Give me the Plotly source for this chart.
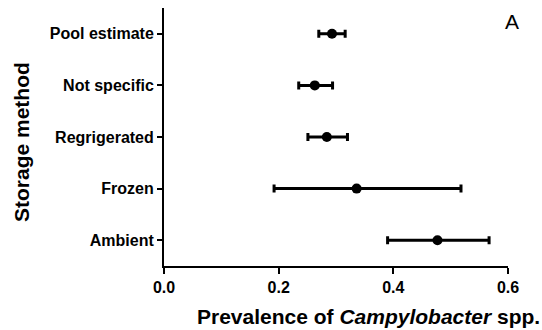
import plotly.graph_objects as go

categories = ["Pool estimate", "Not specific", "Regrigerated", "Frozen", "Ambient"]
estimate = [0.293, 0.263, 0.284, 0.336, 0.477]
ci_low = [0.270, 0.235, 0.251, 0.192, 0.390]
ci_high = [0.316, 0.294, 0.320, 0.518, 0.567]
x_ticks = [0.0, 0.2, 0.4, 0.6]
x_tick_labels = ["0.0", "0.2", "0.4", "0.6"]

ypos = list(range(len(categories) - 1, -1, -1))
err_plus = [h - e for h, e in zip(ci_high, estimate)]
err_minus = [e - l for e, l in zip(estimate, ci_low)]

fig = go.Figure()
fig.add_trace(go.Scatter(
    x=estimate, y=ypos, mode="markers",
    marker=dict(color="black", size=10),
    error_x=dict(type="data", symmetric=False, array=err_plus, arrayminus=err_minus,
                 color="black", thickness=3, width=4),
    showlegend=False, cliponaxis=False,
))

font = "Liberation Sans, Arial, sans-serif"
L, R, T, B = 164, 34, 8, 64
pw = 542 - L - R
ph = 330 - T - B
def px(x):
    return (x - L) / pw
def py(y):
    return (330 - B - y) / ph

fig.update_layout(
    width=542, height=330,
    margin=dict(l=L, r=R, t=T, b=B),
    plot_bgcolor="white", paper_bgcolor="white",
    font=dict(family=font, color="black"),
    xaxis=dict(range=[0, 0.6], tickvals=x_ticks, ticktext=x_tick_labels,
               showgrid=False, zeroline=False, showline=True, linecolor="black", linewidth=2,
               ticks="outside", ticklen=6, tickwidth=2, tickcolor="black",
               tickfont=dict(size=16, family=font, color="black", weight="bold")),
    yaxis=dict(range=[-0.5, 4.5], tickvals=ypos, ticktext=categories,
               showgrid=False, zeroline=False, showline=True, linecolor="black", linewidth=2,
               ticks="outside", ticklen=5, tickwidth=2, tickcolor="black",
               tickfont=dict(size=16, family=font, color="black", weight="bold")),
    annotations=[
        dict(text="Prevalence of <i>Campylobacter</i> spp.", x=px(368), y=py(316),
             xref="paper", yref="paper", showarrow=False, xanchor="center", yanchor="middle",
             font=dict(size=21, family=font, weight="bold")),
        dict(text="Storage method", x=px(21), y=py(142), xref="paper", yref="paper",
             showarrow=False, xanchor="center", yanchor="middle",
             textangle=-90, font=dict(size=21, family=font, weight="bold")),
        dict(text="A", x=px(512), y=py(22), xref="paper", yref="paper", showarrow=False,
             xanchor="center", yanchor="middle",
             font=dict(size=21, family=font)),
    ],
)

fig.write_html("out.html")
